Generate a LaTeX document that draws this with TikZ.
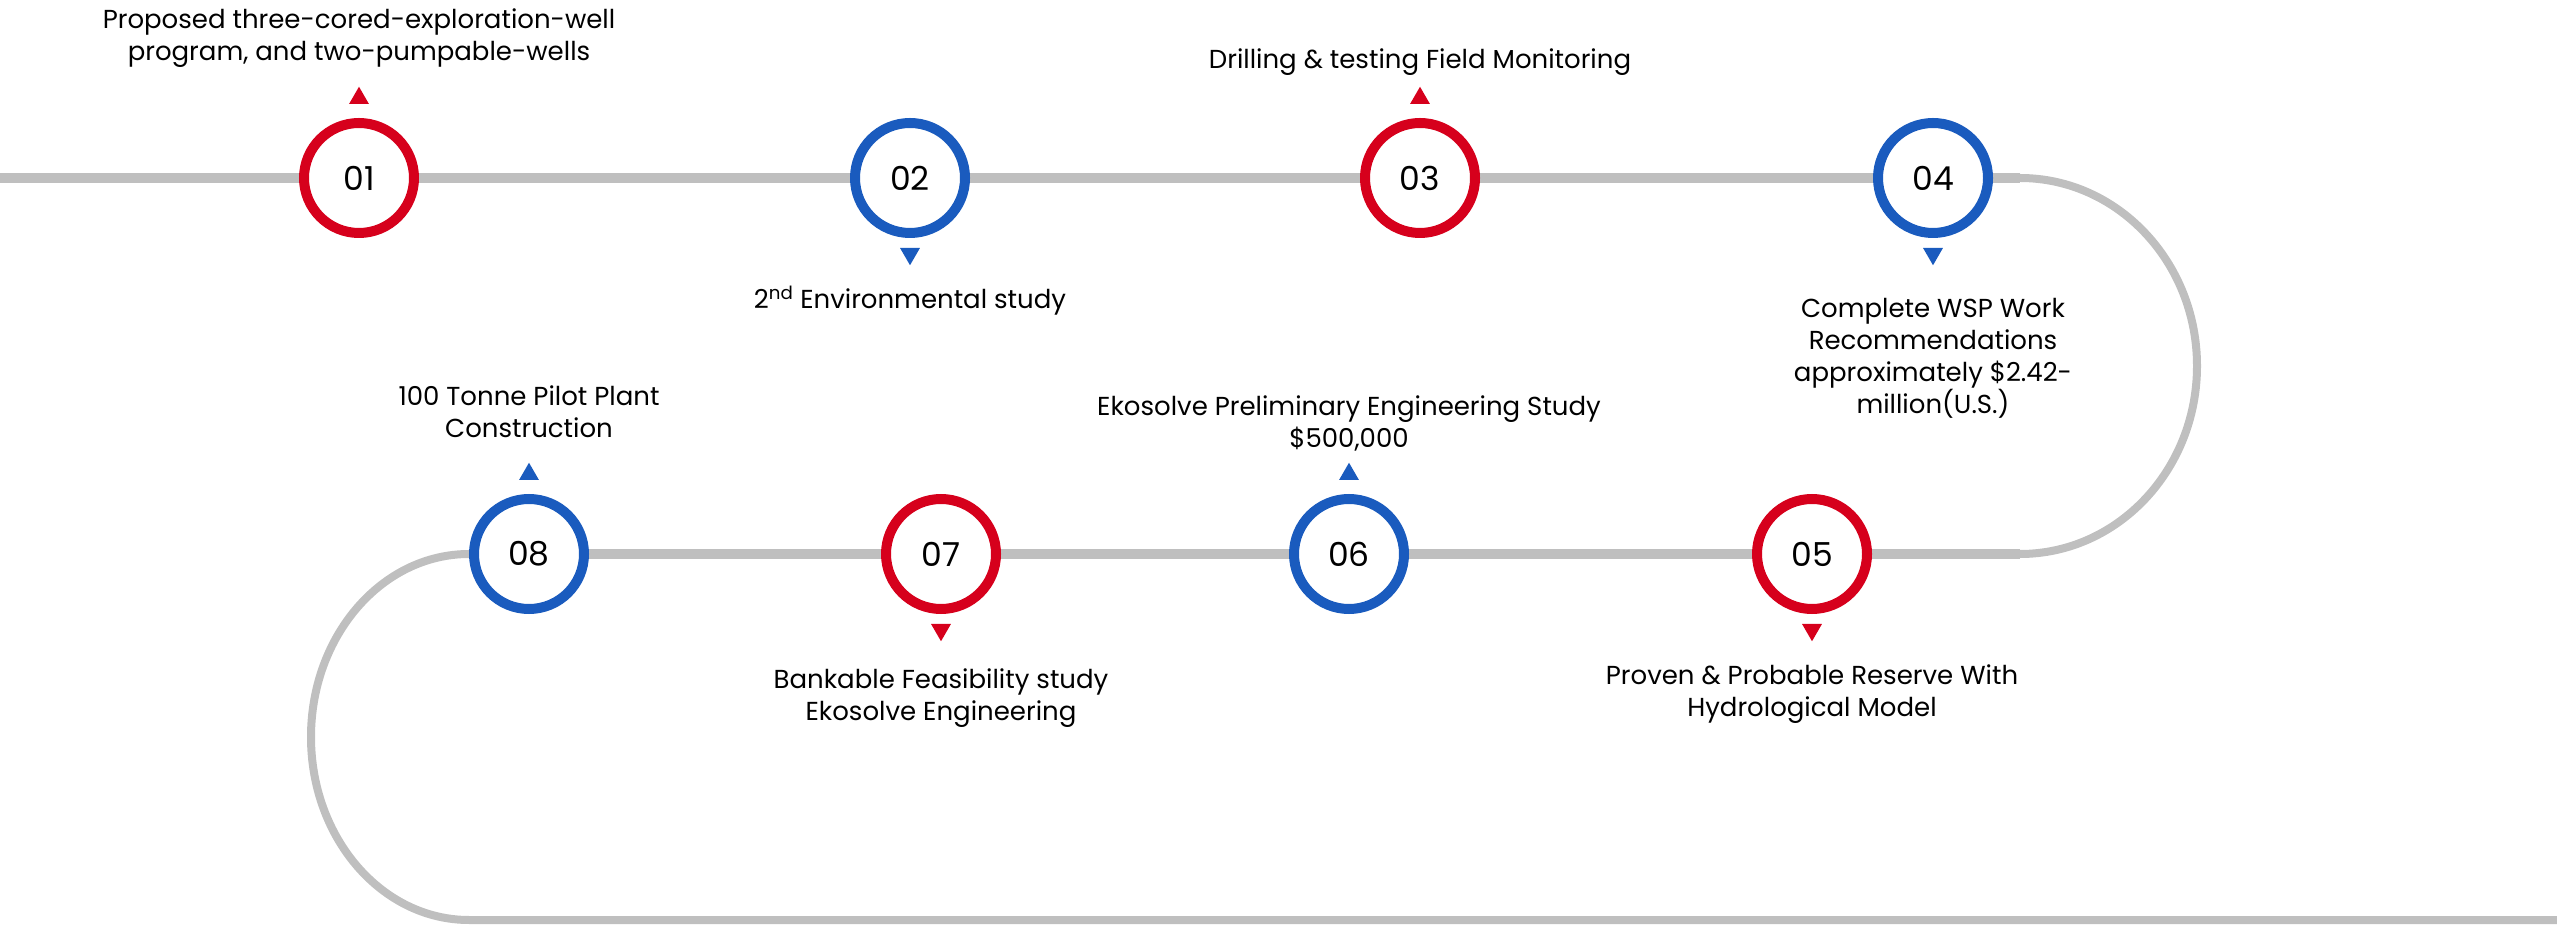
\documentclass[tikz,border=0pt]{standalone}
\usepackage{fontspec}
\setmainfont{Poppins}
\usetikzlibrary{positioning,shapes.geometric,backgrounds}
\definecolor{stepred}{RGB}{214,0,28}
\definecolor{stepblue}{RGB}{26,91,190}
\definecolor{trackgray}{RGB}{191,191,191}
\begin{document}
\begin{tikzpicture}[x=1pt,y=1pt,
    stop/.style={circle,draw,line width=10pt,fill=white,minimum size=110pt,inner sep=0pt,font=\fontsize{33}{33}\selectfont},
    red stop/.style={stop,draw=stepred},
    blue stop/.style={stop,draw=stepblue},
    up mark/.style={regular polygon,regular polygon sides=3,minimum size=23pt,inner sep=0pt,outer sep=0pt},
    down mark/.style={up mark,shape border rotate=180},
    label text/.style={align=center,inner sep=0pt,text height=17pt,text depth=0pt,font=\fontsize{26}{32}\selectfont},
    track/.style={draw=trackgray,line width=10pt},
    bend track/.style={draw=trackgray,line width=8pt}]
    \useasboundingbox (0,0) rectangle (2557,924);

    % stops
    \node[red stop] (s1) at (359,746) {01};
    \node[blue stop] (s2) at (910,746) {02};
    \node[red stop] (s3) at (1420,746) {03};
    \node[blue stop] (s4) at (1933,746) {04};
    \node[red stop] (s5) at (1812,370) {05};
    \node[blue stop] (s6) at (1349,370) {06};
    \node[red stop] (s7) at (941,370) {07};
    \node[blue stop] (s8) at (529,370) {08};

    % markers
    \node[up mark,fill=stepred] (m1) [above=14pt of s1] {};
    \node[down mark,fill=stepblue] (m2) [below=10pt of s2] {};
    \node[up mark,fill=stepred] (m3) [above=14pt of s3] {};
    \node[down mark,fill=stepblue] (m4) [below=10pt of s4] {};
    \node[down mark,fill=stepred] (m5) [below=10pt of s5] {};
    \node[up mark,fill=stepblue] (m6) [above=14pt of s6] {};
    \node[down mark,fill=stepred] (m7) [below=10pt of s7] {};
    \node[up mark,fill=stepblue] (m8) [above=14pt of s8] {};

    % texts (distance below counts the extra lines)
    \node[label text] (t1) [above=26pt of m1] {Proposed three-cored-exploration-well\\program, and two-pumpable-wells};
    \node[label text] (t2) [below=26pt of m2] {2\textsuperscript{nd} Environmental study};
    \node[label text] (t3) [above=18pt of m3] {Drilling \& testing Field Monitoring};
    \node[label text] (t4) [below=131pt of m4] {Complete WSP Work\\Recommendations\\approximately \$2.42-\\million(U.S.)};
    \node[label text] (t5) [below=58pt of m5] {Proven \& Probable Reserve With\\Hydrological Model};
    \node[label text] (t6) [above=15pt of m6] {Ekosolve Preliminary Engineering Study\\\$500,000};
    \node[label text] (t7) [below=62pt of m7] {Bankable Feasibility study\\Ekosolve Engineering};
    \node[label text] (t8) [above=25pt of m8] {100 Tonne Pilot Plant\\Construction};

    \coordinate (w) at (0,746);
    \coordinate (r1) at (2020,746);
    \coordinate (r2) at (2020,370);
    \coordinate (e) at (2557,4);

    \begin{scope}[on background layer]
        \draw[track] (w) -- (s1.center) -- (s2.center) -- (s3.center) -- (s4.center) -- (r1);
        \draw[bend track] (r1) arc[start angle=90,end angle=-90,x radius=177,y radius=188];
        \draw[track] (r2) -- (s5.center) -- (s6.center) -- (s7.center) -- (s8.center);
        \draw[bend track] (s8.west) arc[start angle=90,end angle=270,x radius=158,y radius=183] -- (e);
    \end{scope}
\end{tikzpicture}
\end{document}
